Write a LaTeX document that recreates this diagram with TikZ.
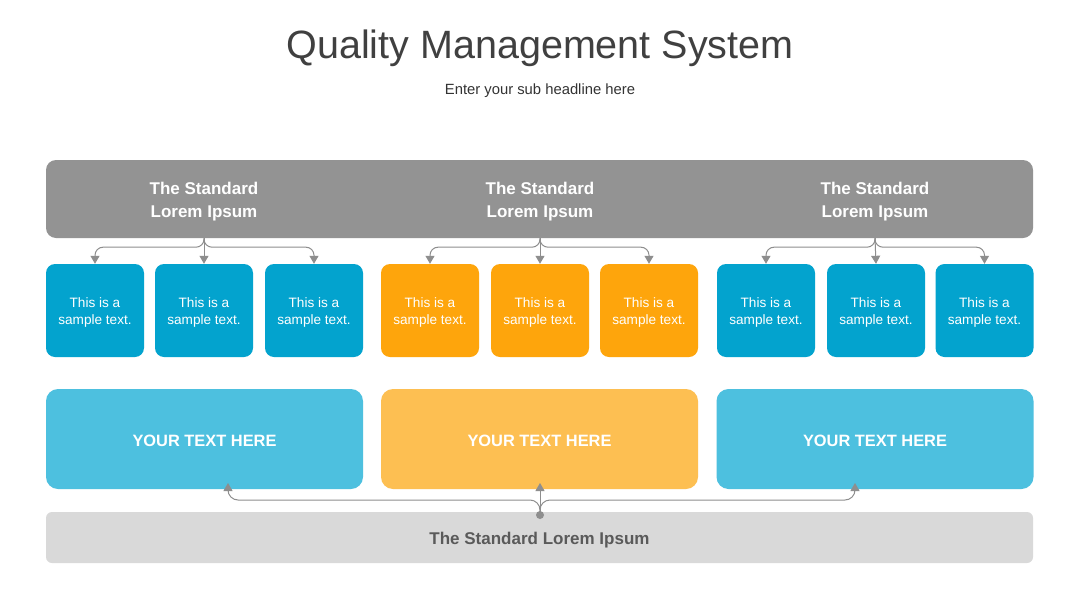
\documentclass[tikz,border=0pt]{standalone}
\usepackage{fontspec}
\setmainfont{Liberation Sans}
\usetikzlibrary{arrows.meta}
\definecolor{titlegray}{HTML}{404040}
\definecolor{subgray}{HTML}{333333}
\definecolor{bargray}{HTML}{939393}
\definecolor{sblue}{HTML}{03A3CE}
\definecolor{sorange}{HTML}{FEA50C}
\definecolor{bblue}{HTML}{4DC0DF}
\definecolor{borange}{HTML}{FDBF52}
\definecolor{lgray}{HTML}{D9D9D9}
\definecolor{ltext}{HTML}{5A5A5A}
\definecolor{conngray}{HTML}{8E8E8E}
\tikzset{
  bar/.style={fill=bargray, rounded corners=10pt, minimum width=987pt, minimum height=78pt, inner sep=0pt},
  hdr/.style={text=white, align=center, font=\bfseries\fontsize{17}{23}\selectfont, inner sep=0pt},
  smallbox/.style={rounded corners=9pt, minimum width=98pt, minimum height=93pt, inner sep=0pt, text=white, align=center, font=\fontsize{13.6}{17}\selectfont},
  bigbox/.style={rounded corners=12pt, minimum width=317pt, minimum height=100pt, inner sep=0pt, text=white, align=center, font=\bfseries\fontsize{16.4}{20}\selectfont},
  basebar/.style={fill=lgray, rounded corners=6pt, minimum width=987pt, minimum height=51pt, inner sep=0pt},
  basetext/.style={text=ltext, font=\bfseries\fontsize{17}{20}\selectfont, inner sep=0pt},
  conn/.style={draw=conngray, line width=1pt, -{Triangle[width=9pt,length=8pt]}},
  dotnode/.style={circle, fill=conngray, minimum size=8pt, inner sep=0pt}
}
\begin{document}
\begin{tikzpicture}[x=1pt,y=-1pt]
\useasboundingbox (0,0) rectangle (1080,608);
\fill[white] (0,0) rectangle (1080,608);

\node[text=titlegray, font=\fontsize{39.5}{42}\selectfont] (title) at (540,48.5) {Quality Management System};
\node[text=subgray, font=\fontsize{14.8}{17}\selectfont] (sub) at (540,90.5) {Enter your sub headline here};

\node[bar] (bar) at (539.5,199) {};
\node[hdr] (h1) at (204,201.5) {The Standard\\Lorem Ipsum};
\node[hdr] (h2) at (540,201.5) {The Standard\\Lorem Ipsum};
\node[hdr] (h3) at (875,201.5) {The Standard\\Lorem Ipsum};

\node[smallbox, fill=sblue] (s1) at (95,310.5) {};
\node[smallbox, fill=sblue] (s2) at (204,310.5) {};
\node[smallbox, fill=sblue] (s3) at (314,310.5) {};
\node[smallbox, fill=sorange] (s4) at (430,310.5) {};
\node[smallbox, fill=sorange] (s5) at (540,310.5) {};
\node[smallbox, fill=sorange] (s6) at (649,310.5) {};
\node[smallbox, fill=sblue] (s7) at (766,310.5) {};
\node[smallbox, fill=sblue] (s8) at (876,310.5) {};
\node[smallbox, fill=sblue] (s9) at (984.5,310.5) {};
\foreach \s in {s1,s2,s3,s4,s5,s6,s7,s8,s9}{
  \node[text=white, align=center, font=\fontsize{13.6}{17}\selectfont, inner sep=0pt] (\s t) at ([yshift=-2pt]\s.center) {This is a\\sample text.};
}

\foreach \h/\a/\b/\c in {h1/s1/s2/s3, h2/s4/s5/s6, h3/s7/s8/s9}{
  \draw[conn, rounded corners=8pt] (\h |- bar.south) -- ++(0,9) -| (\a.north);
  \draw[conn] (\h |- bar.south) -- (\b.north);
  \draw[conn, rounded corners=8pt] (\h |- bar.south) -- ++(0,9) -| (\c.north);
}

\node[bigbox, fill=bblue] (b1) at (204.5,439) {};
\node[bigbox, fill=borange] (b2) at (539.5,439) {};
\node[bigbox, fill=bblue] (b3) at (875,439) {};
\foreach \b in {b1,b2,b3}{
  \node[text=white, font=\bfseries\fontsize{16.4}{20}\selectfont, inner sep=0pt] (\b t) at ([yshift=-1.5pt]\b.center) {YOUR TEXT HERE};
}

\node[basebar] (base) at (539.5,537.5) {};
\node[basetext] (baset) at (539.5,540.5) {The Standard Lorem Ipsum};

\coordinate (dc) at (540,515);
\coordinate (t1) at (228,483);
\coordinate (t2) at (540,483);
\coordinate (t3) at (855,483);
\draw[conn, rounded corners=10pt] (dc) -- (540,500) -| (t1);
\draw[conn, rounded corners=10pt] (dc) -- (540,500) -| (t3);
\draw[conn] (dc) -- (t2);
\node[dotnode] (dot) at (dc) {};
\end{tikzpicture}
\end{document}
